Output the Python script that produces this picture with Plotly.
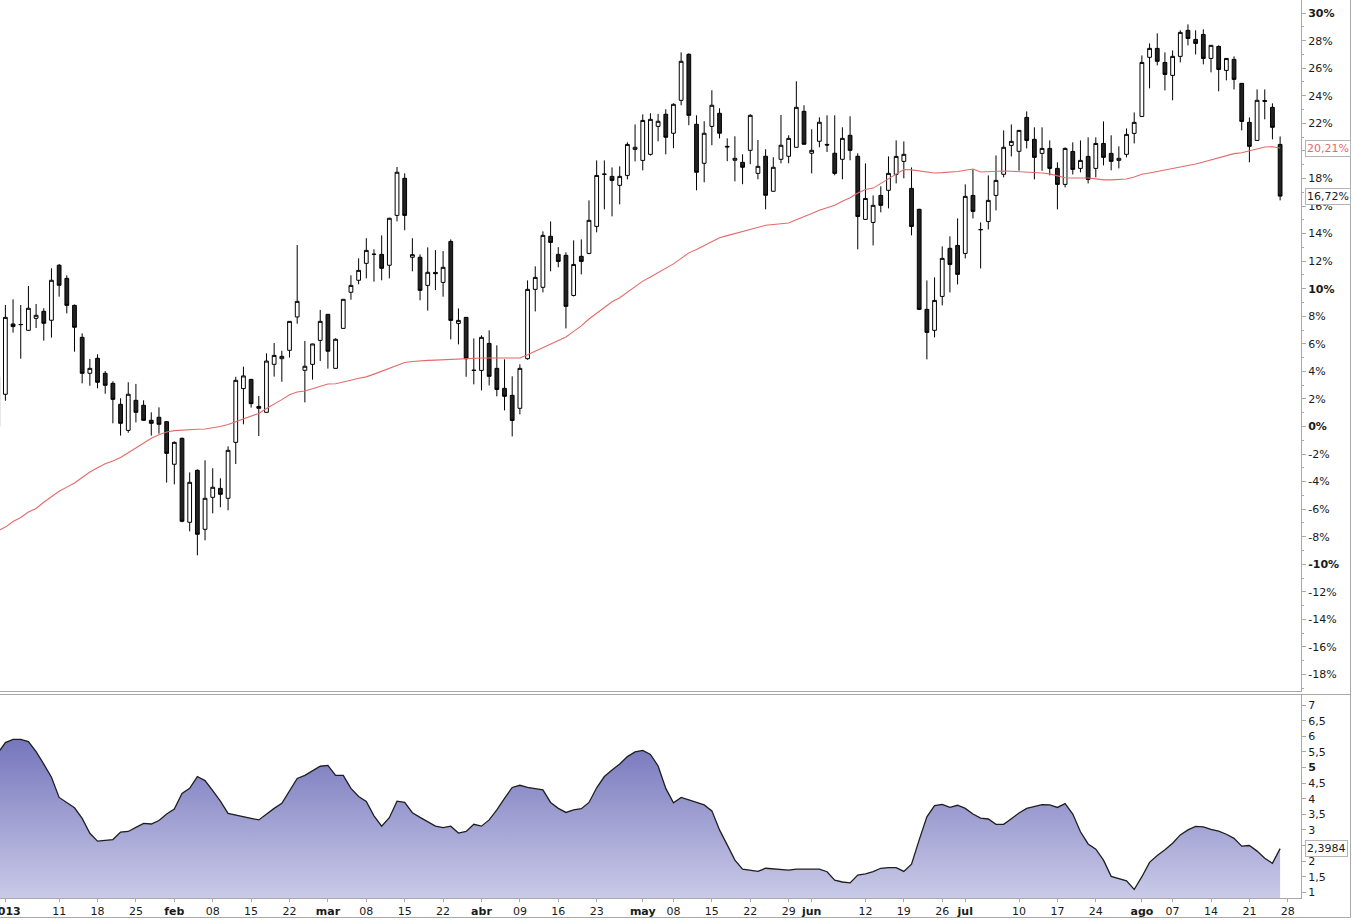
import plotly.graph_objects as go

# ---- data (percent change vs 31-dic-2012 close), index 0 = 31-dic-2012 ----
opens = [3.61, 2.34, 7.44, 7.39, 6.98, 7.85, 8.36, 7.71, 11.70, 10.75,
         8.79, 6.47, 3.86, 4.95, 3.86, 3.13, 1.61, -0.28, 1.90, 1.54,
         0.45, 0.67, 0.35, -2.74, -0.86, -6.95, -3.18, -7.46, -5.14, -4.49,
         -5.21, -1.15, 2.75, 3.42, 1.46, 1.03, 4.51, 4.92, 5.53, 7.95,
         4.08, 4.51, 6.25, 8.14, 4.22, 7.12, 9.74, 10.61, 11.84, 12.49,
         12.49, 11.70, 15.32, 18.01, 12.28, 12.28, 10.24, 11.18, 10.46, 13.43,
         7.48, 7.92, 4.07, 4.07, 6.03, 4.22, 2.77, 2.26, 1.32, 4.92,
         9.95, 10.10, 13.80, 12.49, 12.42, 9.51, 12.35, 12.56, 14.52, 18.30,
         18.15, 17.50, 18.22, 20.11, 19.31, 19.75, 21.78, 22.66, 21.28, 23.67,
         27.01, 21.93, 19.10, 21.78, 22.73, 20.33, 19.32, 19.17, 20.04, 18.37,
         19.61, 17.07, 19.39, 19.61, 20.26, 22.87, 19.83, 20.70, 20.47, 19.83,
         19.39, 21.13, 19.61, 15.03, 14.81, 16.77, 17.14, 18.30, 19.24, 17.28,
         15.76, 8.50, 6.98, 9.44, 12.93, 13.14, 12.56, 16.77, 14.28, 14.88,
         16.77, 18.30, 20.40, 19.97, 22.43, 20.84, 19.82, 20.18, 18.73, 17.57,
         19.96, 18.73, 19.60, 18.73, 20.54, 19.82, 19.31, 19.75, 21.27, 22.50,
         26.79, 27.44, 26.42, 25.48, 26.86, 28.75, 28.09, 28.45, 26.71, 27.58,
         25.84, 26.64, 24.90, 22.07, 20.76, 23.66, 23.16, 20.47]
highs = [3.70, 8.82, 9.23, 8.82, 10.20, 8.89, 8.58, 11.48, 11.79, 10.97,
         8.85, 6.76, 4.90, 5.24, 4.03, 3.28, 2.05, 3.21, 3.09, 1.90,
         1.03, 1.39, 0.40, -1.08, -0.80, -3.33, -3.11, -2.45, -3.03, -3.76,
         -1.44, 3.61, 4.34, 3.45, 2.21, 5.31, 6.06, 5.50, 7.65, 13.17,
         6.21, 6.01, 8.46, 8.16, 6.40, 9.25, 10.97, 12.20, 13.66, 12.86,
         13.87, 15.15, 18.83, 18.37, 13.66, 12.49, 13.00, 12.80, 12.73, 13.58,
         8.57, 7.95, 6.39, 6.61, 6.98, 5.89, 4.87, 3.64, 4.51, 10.60,
         11.62, 14.16, 14.88, 13.02, 12.64, 13.51, 13.58, 16.41, 19.31, 19.31,
         18.80, 18.88, 20.62, 21.92, 22.65, 22.73, 22.68, 23.02, 23.45, 27.15,
         27.08, 22.58, 22.15, 24.40, 23.09, 20.91, 21.06, 19.75, 22.66, 20.79,
         20.12, 19.54, 22.61, 21.13, 25.05, 23.31, 21.57, 22.44, 22.58, 22.58,
         21.71, 22.51, 19.83, 19.09, 16.77, 17.43, 19.60, 20.76, 20.69, 18.80,
         15.80, 10.60, 10.82, 13.07, 13.80, 15.10, 17.57, 18.66, 14.81, 18.22,
         19.67, 21.49, 21.92, 21.52, 22.87, 21.71, 21.71, 20.76, 19.17, 20.25,
         20.62, 20.76, 20.98, 20.98, 22.14, 21.13, 20.33, 21.63, 22.79, 26.93,
         27.80, 28.53, 27.15, 27.29, 28.75, 29.18, 28.75, 28.82, 27.68, 27.66,
         26.73, 26.86, 24.92, 22.43, 24.46, 24.46, 23.45, 21.05]
lows = [-0.10, 1.87, 6.81, 4.92, 6.95, 7.15, 6.23, 6.45, 9.42, 8.21,
        5.43, 3.13, 2.96, 2.77, 2.38, 0.23, -0.66, -0.45, 0.30, 0.43,
        -0.66, -0.52, -4.07, -4.20, -6.95, -7.61, -9.35, -8.26, -6.30, -5.86,
        -6.08, -2.72, 0.16, 1.37, -0.69, 1.00, 3.62, 3.25, 5.00, 7.46,
        1.75, 3.40, 4.75, 4.20, 4.20, 7.10, 9.20, 10.32, 10.75, 10.51,
        10.61, 10.75, 14.89, 14.24, 11.26, 9.16, 8.41, 9.90, 9.42, 6.32,
        5.96, 3.61, 3.06, 2.62, 2.98, 2.19, 1.17, -0.72, 0.88, 4.85,
        8.35, 9.73, 11.26, 11.55, 7.12, 9.44, 11.04, 12.50, 14.09, 15.76,
        15.25, 16.12, 17.93, 19.24, 18.59, 19.66, 20.70, 19.75, 20.19, 23.31,
        21.86, 17.14, 17.72, 20.41, 20.91, 19.25, 17.79, 17.58, 19.03, 17.94,
        15.76, 17.05, 19.10, 19.10, 20.24, 20.46, 18.37, 20.26, 19.92, 18.23,
        17.94, 19.32, 12.86, 15.00, 13.14, 15.54, 15.83, 17.64, 18.01, 13.87,
        8.45, 4.87, 6.47, 8.79, 9.73, 10.31, 12.20, 15.10, 11.47, 14.30,
        15.68, 18.08, 19.60, 18.56, 20.18, 17.93, 18.56, 18.22, 15.76, 17.35,
        18.29, 18.44, 17.64, 18.08, 18.95, 18.59, 18.73, 19.53, 20.54, 22.48,
        24.54, 26.21, 24.39, 23.67, 26.42, 27.66, 27.00, 26.28, 25.70, 24.32,
        25.12, 24.46, 21.49, 19.17, 20.74, 22.29, 20.84, 16.41]
closes = [0.00, 7.92, 7.25, 7.40, 8.58, 8.07, 7.49, 10.61, 10.25, 8.79,
          7.20, 3.86, 4.22, 3.21, 2.99, 1.97, 0.23, 2.34, 1.03, 0.45,
          0.23, 0.16, -1.95, -1.15, -6.88, -4.05, -7.82, -5.21, -4.41, -4.92,
          -1.73, 3.35, 3.67, 1.66, 1.32, 4.75, 5.16, 5.09, 7.63, 9.08,
          4.37, 5.99, 7.63, 5.46, 6.33, 9.23, 10.24, 11.33, 12.78, 12.50,
          11.48, 15.11, 18.45, 15.32, 12.47, 9.88, 11.19, 11.09, 11.55, 7.70,
          7.70, 4.92, 4.08, 6.47, 3.64, 2.69, 2.19, 0.44, 4.22, 9.95,
          10.82, 13.87, 13.36, 11.98, 8.72, 11.76, 11.98, 14.96, 18.22, 18.31,
          17.86, 18.15, 20.47, 20.26, 22.21, 22.29, 22.15, 20.99, 23.38, 26.50,
          22.58, 18.45, 21.28, 23.31, 21.28, 20.29, 19.46, 18.81, 22.58, 18.88,
          16.78, 18.81, 20.41, 20.91, 23.16, 20.48, 20.04, 22.08, 20.43, 18.37,
          20.91, 20.04, 15.24, 16.55, 16.05, 16.05, 18.37, 19.60, 19.75, 14.52,
          8.50, 6.83, 9.15, 12.20, 11.76, 11.04, 16.70, 15.61, 14.29, 16.41,
          17.86, 20.26, 20.69, 21.49, 20.76, 19.53, 20.18, 18.73, 17.57, 20.18,
          18.66, 19.31, 17.93, 20.54, 19.53, 19.24, 19.46, 21.20, 22.07, 26.42,
          27.44, 26.50, 25.55, 26.86, 28.60, 28.16, 27.80, 26.71, 27.66, 25.91,
          26.71, 25.19, 22.14, 20.33, 23.67, 23.60, 21.71, 16.72]
moving_avg = [-7.60, -7.30, -6.90, -6.60, -6.20, -5.95, -5.50, -5.10, -4.70, -4.40,
              -4.10, -3.70, -3.30, -3.00, -2.70, -2.50, -2.25, -1.90, -1.55, -1.20,
              -0.85, -0.60, -0.40, -0.30, -0.25, -0.20, -0.20, -0.18, -0.10, 0.00,
              0.15, 0.35, 0.55, 0.75, 0.95, 1.30, 1.60, 1.95, 2.30, 2.50,
              2.58, 2.75, 2.95, 3.08, 3.10, 3.20, 3.35, 3.50, 3.60, 3.80,
              4.00, 4.20, 4.45, 4.65, 4.72, 4.78, 4.80, 4.82, 4.85, 4.90,
              4.90, 4.93, 4.95, 4.97, 4.97, 4.97, 4.97, 4.97, 4.97, 5.20,
              5.45, 5.70, 5.95, 6.25, 6.50, 6.90, 7.30, 7.80, 8.20, 8.60,
              9.05, 9.35, 9.75, 10.10, 10.55, 10.85, 11.15, 11.45, 11.80, 12.20,
              12.60, 12.85, 13.15, 13.40, 13.70, 13.85, 14.00, 14.20, 14.35, 14.50,
              14.60, 14.66, 14.72, 14.77, 15.00, 15.20, 15.45, 15.70, 15.85, 16.05,
              16.35, 16.60, 16.95, 17.20, 17.30, 17.65, 17.95, 18.30, 18.65, 18.62,
              18.55, 18.45, 18.40, 18.42, 18.45, 18.50, 18.60, 18.69, 18.47, 18.50,
              18.52, 18.54, 18.52, 18.50, 18.48, 18.45, 18.40, 18.33, 18.20, 18.05,
              18.03, 18.03, 18.03, 17.97, 17.90, 17.90, 17.93, 17.96, 18.10, 18.30,
              18.40, 18.50, 18.60, 18.70, 18.80, 18.90, 19.05, 19.20, 19.35, 19.50,
              19.65, 19.80, 19.87, 20.00, 20.15, 20.28, 20.30, 20.21]
indicator = [5.45, 5.80, 5.90, 5.90, 5.83, 5.51, 5.11, 4.69, 4.04, 3.87,
             3.71, 3.37, 2.89, 2.64, 2.67, 2.69, 2.93, 2.95, 3.08, 3.21,
             3.19, 3.30, 3.51, 3.67, 4.17, 4.33, 4.71, 4.58, 4.26, 3.92,
             3.53, 3.47, 3.43, 3.37, 3.32, 3.51, 3.69, 3.85, 4.26, 4.65,
             4.75, 4.90, 5.04, 5.07, 4.75, 4.75, 4.33, 4.07, 3.91, 3.45,
             3.12, 3.39, 3.92, 3.88, 3.55, 3.40, 3.27, 3.12, 3.07, 3.12,
             2.90, 2.95, 3.18, 3.12, 3.32, 3.64, 4.01, 4.36, 4.43, 4.36,
             4.32, 4.28, 3.88, 3.69, 3.56, 3.64, 3.68, 3.88, 4.35, 4.71,
             4.92, 5.11, 5.35, 5.50, 5.55, 5.42, 5.05, 4.33, 3.87, 4.04,
             3.96, 3.87, 3.80, 3.61, 3.00, 2.52, 2.03, 1.74, 1.70, 1.67,
             1.77, 1.75, 1.74, 1.71, 1.74, 1.74, 1.74, 1.74, 1.66, 1.39,
             1.33, 1.30, 1.55, 1.59, 1.66, 1.77, 1.79, 1.79, 1.67, 1.90,
             2.68, 3.42, 3.78, 3.82, 3.72, 3.79, 3.69, 3.51, 3.38, 3.35,
             3.18, 3.18, 3.36, 3.54, 3.69, 3.76, 3.81, 3.80, 3.72, 3.84,
             3.51, 2.94, 2.55, 2.38, 2.03, 1.51, 1.45, 1.37, 1.09, 1.50,
             1.96, 2.18, 2.36, 2.57, 2.84, 3.00, 3.11, 3.10, 3.02, 2.96,
             2.86, 2.73, 2.48, 2.50, 2.32, 2.09, 1.93, 2.3984]

x_tick_pos = [1, 8, 13, 18, 23, 28, 33, 38, 43, 48, 53, 58, 63, 68, 73, 78, 84,
              88, 93, 98, 103, 106, 113, 118, 123, 126, 133, 138, 143, 149, 153,
              158, 163, 168]
x_tick_labels = ["<b>2013</b>", "11", "18", "25", "<b>feb</b>", "08", "15", "22",
                 "<b>mar</b>", "08", "15", "22", "<b>abr</b>", "09", "16", "23",
                 "<b>may</b>", "08", "15", "22", "29", "<b>jun</b>", "12", "19", "26",
                 "<b>jul</b>", "10", "17", "24", "<b>ago</b>", "07", "14", "21", "28"]
pct_ticks = list(range(-18, 31, 2))
pct_labels = [("<b>%d%%</b>" % v) if v in (30, 10, 0, -10) else ("%d%%" % v) for v in pct_ticks]
ind_ticks = [1, 1.5, 2, 2.5, 3, 3.5, 4, 4.5, 5, 5.5, 6, 6.5, 7]
ind_labels = ["1", "1,5", "2", "2,5", "3", "3,5", "4", "4,5", "<b>5</b>", "5,5", "6", "6,5", "7"]

W, H = 1354, 920
idx = list(range(len(closes)))
FONT = "DejaVu Sans"
GRAY = "#a9a9a9"

fig = go.Figure()
fig.add_trace(go.Scatter(x=idx, y=moving_avg, mode="lines",
                         line=dict(color="#e46a6a", width=1.1),
                         xaxis="x", yaxis="y", hoverinfo="skip"))
fig.add_trace(go.Candlestick(x=idx, open=opens, high=highs, low=lows, close=closes,
                             increasing=dict(line=dict(color="#000000", width=1), fillcolor="#ffffff"),
                             decreasing=dict(line=dict(color="#000000", width=1), fillcolor="#222222"),
                             whiskerwidth=0, xaxis="x", yaxis="y"))
fig.add_trace(go.Scatter(x=idx, y=indicator, mode="lines", fill="tozeroy",
                         line=dict(color="#1e1e1e", width=1.3),
                         fillgradient=dict(type="vertical",
                                           colorscale=[[0, "rgb(202,202,232)"], [1, "rgb(116,116,188)"]],
                                           start=0.8, stop=6.0),
                         xaxis="x2", yaxis="y2", hoverinfo="skip"))

xr = [0.2995, 169.72]
xd = [0, 1301 / W]
main_dom = [1 - 691.5 / H, 1]
low_dom = [1 - 898 / H, 1 - 694 / H]

fig.update_layout(
    width=W, height=H, margin=dict(l=0, r=0, t=0, b=0, autoexpand=False),
    paper_bgcolor="white", plot_bgcolor="white", showlegend=False,
    font=dict(family=FONT, size=11, color="#1a1a1a"),
    boxgap=0.3, boxgroupgap=0.3,
    xaxis=dict(domain=xd, range=xr, showticklabels=False, showgrid=False, zeroline=False,
               rangeslider=dict(visible=False), anchor="y", showline=False, ticks="",
               automargin=False),
    yaxis=dict(domain=main_dom, range=[-19.23, 30.95], side="right", anchor="x",
               tickmode="array", tickvals=pct_ticks, ticktext=pct_labels, automargin=False,
               ticks="outside", ticklen=4, tickcolor=GRAY, showgrid=False, zeroline=False,
               showline=True, linecolor=GRAY, linewidth=1,
               minor=dict(tickmode="array", tickvals=list(range(-19, 31, 2)), ticks="outside",
                          ticklen=2, tickcolor=GRAY),
               tickfont=dict(family=FONT, size=11, color="#1a1a1a")),
    xaxis2=dict(domain=xd, range=xr, matches="x", anchor="y2", tickmode="array",
                tickvals=x_tick_pos, ticktext=x_tick_labels, ticks="outside", ticklen=3,
                tickcolor=GRAY, showgrid=False, zeroline=False, showline=True,
                linecolor=GRAY, linewidth=1, ticklabeloverflow="allow", automargin=False,
                tickfont=dict(family=FONT, size=11, color="#1a1a1a")),
    yaxis2=dict(domain=low_dom, range=[0.817, 7.356], side="right", anchor="x2",
                tickmode="array", tickvals=ind_ticks, ticktext=ind_labels, automargin=False,
                ticks="outside", ticklen=4, tickcolor=GRAY, showgrid=False, zeroline=False,
                showline=True, linecolor=GRAY, linewidth=1,
                tickfont=dict(family=FONT, size=11, color="#1a1a1a")),
)

shapes = [
    dict(type="line", xref="paper", yref="paper", x0=0, x1=1301 / W, y0=1 - 691.5 / H, y1=1 - 691.5 / H,
         line=dict(color=GRAY, width=1)),
    dict(type="line", xref="paper", yref="paper", x0=0, x1=1350 / W, y0=1 - 694.5 / H, y1=1 - 694.5 / H,
         line=dict(color=GRAY, width=1)),
    dict(type="line", xref="paper", yref="paper", x0=1350.5 / W, x1=1350.5 / W, y0=1 - 917.5 / H, y1=1,
         line=dict(color=GRAY, width=1)),
    dict(type="line", xref="paper", yref="paper", x0=0, x1=1350.5 / W, y0=1 - 917.5 / H, y1=1 - 917.5 / H,
         line=dict(color=GRAY, width=1)),
]
fig.update_layout(shapes=shapes)

def tag(text, yval, yref, color):
    return dict(text=text, xref="paper", x=1305 / W, xanchor="left", yref=yref, y=yval,
                yanchor="middle", showarrow=False, bgcolor="white", bordercolor="#b4b4b4",
                borderwidth=1, borderpad=1, font=dict(family=FONT, size=11, color=color))

fig.update_layout(annotations=[
    tag("20,21%", moving_avg[-1], "y", "#e46a6a"),
    tag("16,72%", closes[-1], "y", "#1a1a1a"),
    tag("2,3984", indicator[-1], "y2", "#1a1a1a"),
])

fig.write_html("out.html", config={"displayModeBar": False},
               post_script="document.body.style.margin='0px';document.body.style.overflow='hidden';")
